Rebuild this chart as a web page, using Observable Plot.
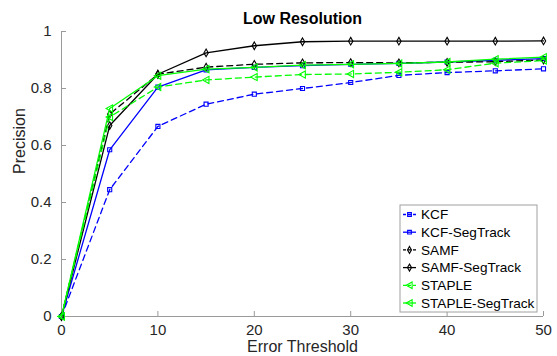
<!DOCTYPE html>
<html><head><meta charset="utf-8">
<script src="https://cdn.jsdelivr.net/npm/d3@7"></script>
<script src="https://cdn.jsdelivr.net/npm/@observablehq/plot@0.6"></script>
<style>
body{margin:0;background:#fff;}
#chart{position:relative;width:557px;height:356px;}
</style>
</head><body><div id="chart"></div>
<script>
const thresholds = [0, 5, 10, 15, 20, 25, 30, 35, 40, 45, 50];
const seriesNames = ["KCF", "KCF-SegTrack", "SAMF", "SAMF-SegTrack", "STAPLE", "STAPLE-SegTrack"];
const kcf          = [0, 0.445, 0.667, 0.745, 0.780, 0.800, 0.821, 0.846, 0.856, 0.862, 0.869];
const kcfSeg       = [0, 0.585, 0.805, 0.865, 0.874, 0.880, 0.885, 0.888, 0.893, 0.899, 0.905];
const samf         = [0, 0.710, 0.850, 0.875, 0.885, 0.890, 0.891, 0.890, 0.892, 0.894, 0.900];
const samfSeg      = [0, 0.670, 0.850, 0.925, 0.950, 0.964, 0.966, 0.966, 0.966, 0.966, 0.967];
const staple       = [0, 0.700, 0.805, 0.830, 0.840, 0.849, 0.851, 0.857, 0.866, 0.889, 0.898];
const stapleSeg    = [0, 0.730, 0.845, 0.868, 0.874, 0.882, 0.885, 0.888, 0.893, 0.903, 0.910];
const xTicks = [0, 10, 20, 30, 40, 50];
const yTicks = [0, 0.2, 0.4, 0.6, 0.8, 1];

const seriesValues = [kcf, kcfSeg, samf, samfSeg, staple, stapleSeg];
const colors = ["#0000ff", "#0000ff", "#000000", "#000000", "#00ff00", "#00ff00"];
const dashed = [true, false, true, false, true, false];

const triLeft = {draw(ctx, size) {
  const r = Math.sqrt(size / 1.3);
  ctx.moveTo(-r, 0); ctx.lineTo(r * 0.8, -r); ctx.lineTo(r * 0.8, r); ctx.closePath();
}};
const symbols = [d3.symbolSquare, d3.symbolSquare, d3.symbolDiamond, d3.symbolDiamond, triLeft, triLeft];

const rows = [];
seriesNames.forEach((name, i) => thresholds.forEach((t, j) => rows.push({series: name, i, x: t, y: seriesValues[i][j]})));

const font = "'Liberation Sans', Arial, Helvetica, sans-serif";
const marks = [
  Plot.ruleY([0], {stroke: "#9a9a9a"}),
  Plot.ruleX([0], {stroke: "#9a9a9a"}),
  Plot.axisX({ticks: xTicks, tickSize: -5, tickPadding: 13, stroke: "#9a9a9a", color: "#262626", fontSize: 15, label: null}),
  Plot.axisY({ticks: yTicks, tickSize: -5, tickPadding: 15, stroke: "#9a9a9a", color: "#262626", fontSize: 15, label: null, tickFormat: d => String(d)}),
  Plot.text(["Low Resolution"], {frameAnchor: "top", lineAnchor: "middle", dy: -13, fontWeight: "bold", fontSize: 16, fill: "#000"}),
  Plot.text(["Error Threshold"], {frameAnchor: "bottom", lineAnchor: "middle", dy: 30, fontSize: 16, fill: "#262626"}),
  Plot.text(["Precision"], {frameAnchor: "left", lineAnchor: "middle", dx: -42, rotate: -90, fontSize: 16, fill: "#262626"})
];
seriesNames.forEach((name, i) => {
  const d = rows.filter(r => r.i === i);
  marks.push(Plot.line(d, {x: "x", y: "y", stroke: colors[i], strokeWidth: 1.3, strokeDasharray: dashed[i] ? "6,4" : null}));
  marks.push(Plot.dot(d, {x: "x", y: "y", stroke: colors[i], fill: "none", strokeWidth: 1.1, symbol: symbols[i], r: 2.3}));
});

const svg = Plot.plot({
  width: 557, height: 356,
  marginLeft: 61, marginRight: 14, marginTop: 31, marginBottom: 40,
  style: {fontFamily: font, background: "#fff"},
  x: {domain: [0, 50]},
  y: {domain: [0, 1]},
  marks
});
document.getElementById("chart").appendChild(svg);

// legend inside the axes
const lg = d3.select(svg).append("g").attr("font-family", font).attr("text-anchor", "start");
const lx = 400, ly = 205, lw = 137, lh = 107, step = 17.7;
lg.append("rect").attr("x", lx).attr("y", ly).attr("width", lw).attr("height", lh)
  .attr("fill", "#fff").attr("stroke", "#a0a0a0").attr("stroke-width", 1);
seriesNames.forEach((name, i) => {
  const cy = ly + 9.5 + i * step;
  lg.append("line").attr("x1", lx + 3).attr("x2", lx + 16).attr("y1", cy).attr("y2", cy)
    .attr("stroke", colors[i]).attr("stroke-width", 1.3).attr("stroke-dasharray", dashed[i] ? "3,2" : null);
  lg.append("path").attr("d", d3.symbol(symbols[i], 14)()).attr("transform", `translate(${lx + 9.5},${cy})`)
    .attr("fill", "none").attr("stroke", colors[i]).attr("stroke-width", 1.1);
  lg.append("text").attr("x", lx + 21).attr("y", cy).attr("dy", "0.35em").attr("font-size", 13.6)
    .attr("text-anchor", "start").attr("fill", "#000").text(name);
});
</script></body></html>
